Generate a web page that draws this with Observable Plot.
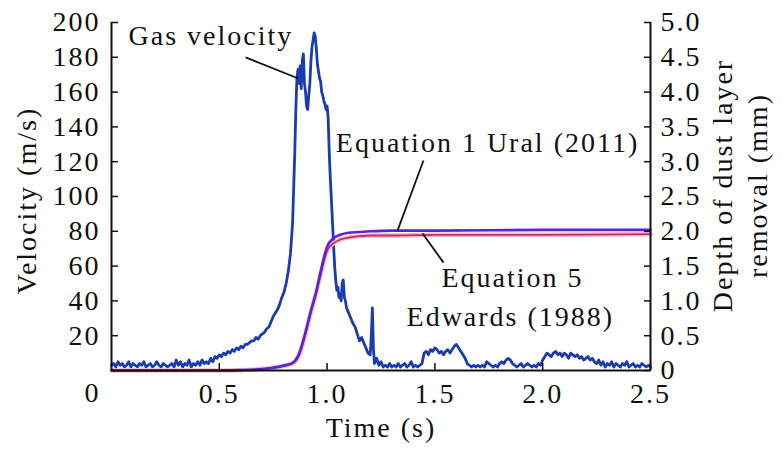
<!DOCTYPE html>
<html>
<head>
<meta charset="utf-8">
<script src="https://cdn.jsdelivr.net/npm/d3@7"></script>
<script src="https://cdn.jsdelivr.net/npm/@observablehq/plot@0.6"></script>
<style>
  html, body { margin: 0; padding: 0; background: #fff; }
  #chart svg, #chart svg text { font-family: "Liberation Serif", "Tinos", "DejaVu Serif", "Times New Roman", Times, serif !important; }
  #chart svg text { letter-spacing: 2px; }
</style>
</head>
<body>
<div id="chart"></div>
<script>
// ---- Gas velocity (m/s) vs time (s) ----
const gasTime = [
  0.00,0.01,0.02,0.03,0.04,0.05,0.06,0.07,0.08,0.09,0.10,0.11,0.12,0.13,0.14,0.15,0.16,0.17,0.18,0.19,
  0.20,0.21,0.22,0.23,0.24,0.25,0.26,0.27,0.28,0.29,0.30,0.31,0.32,0.33,0.34,0.35,0.36,0.37,0.38,0.39,
  0.40,0.41,0.42,0.43,0.44,0.45,0.46,0.47,0.48,0.49,0.50,0.51,0.52,0.53,0.54,0.55,0.56,0.57,0.58,0.59,
  0.60,0.61,0.62,0.63,0.64,0.65,0.66,0.67,0.68,0.69,0.70,0.71,0.72,0.73,0.74,0.75,0.76,0.77,0.78,0.79,
  0.80,0.81,0.82,0.83,0.84,0.85,0.855,0.86,0.865,0.87,0.875,0.88,0.885,0.89,0.895,0.90,0.905,0.91,0.915,
  0.92,0.925,0.93,0.935,0.94,0.945,0.95,0.955,0.96,0.965,0.97,0.975,0.98,0.985,0.99,0.995,1.00,1.005,
  1.01,1.015,1.02,1.025,1.03,1.035,1.04,1.045,1.05,1.055,1.06,1.065,1.07,1.075,1.08,1.085,1.09,
  1.10,1.11,1.12,1.13,1.14,1.15,1.16,1.17,1.18,1.19,1.20,1.205,1.21,1.215,1.22,1.23,1.24,1.25,1.26,
  1.27,1.28,1.29,1.30,1.31,1.32,1.33,1.34,1.35,1.36,1.37,1.38,1.39,1.40,1.41,1.42,1.43,1.44,
  1.45,1.46,1.47,1.48,1.49,1.50,1.51,1.52,1.53,1.54,1.55,1.56,1.57,1.58,1.59,1.60,1.61,1.62,1.63,
  1.64,1.65,1.66,1.67,1.68,1.69,1.70,1.71,1.72,1.73,1.74,1.75,1.76,1.77,1.78,1.79,1.80,1.81,1.82,
  1.83,1.84,1.85,1.86,1.87,1.88,1.89,1.90,1.91,1.92,1.93,1.94,1.95,1.96,1.97,1.98,1.99,2.00,2.01,
  2.02,2.03,2.04,2.05,2.06,2.07,2.08,2.09,2.10,2.11,2.12,2.13,2.14,2.15,2.16,2.17,2.18,2.19,2.20,
  2.21,2.22,2.23,2.24,2.25,2.26,2.27,2.28,2.29,2.30,2.31,2.32,2.33,2.34,2.35,2.36,2.37,2.38,2.39,
  2.40,2.41,2.42,2.43,2.44,2.45,2.46,2.47,2.48,2.49,2.50
];
const gasVelocity = [
  3,4,2,5,3,4,2,3,5,2,4,3,2,4,3,5,2,3,4,2,
  3,5,3,2,4,3,2,3,4,2,6,3,5,2,4,3,6,2,4,3,
  5,3,6,4,5,4,7,5,8,7,9,8,10,9,11,10,12,11,13,12,
  14,13,15,15,16,17,17,19,18,20,21,22,24,25,28,31,33,35,38,42,
  45,50,57,67,85,125,150,168,173,165,175,162,178,182,165,160,152,150,158,
  165,178,186,190,194,192,185,176,172,168,166,160,158,155,153,150,152,145,
  125,110,98,85,72,60,52,46,48,42,44,40,50,52,42,40,36,
  33,30,27,25,21,17,19,16,13,10,9,20,36,12,4,7,3,5,2,
  3,2,4,2,3,2,4,2,3,4,2,3,5,2,3,2,3,4,
  10,11,9,12,11,13,12,10,11,9,11,12,10,12,14,15,13,11,9,
  7,4,3,2,3,2,3,2,3,2,5,4,3,2,3,2,4,5,4,
  6,7,6,4,3,2,3,4,2,3,4,3,2,3,2,4,3,6,8,
  10,9,8,10,11,9,10,8,10,9,7,10,9,8,9,7,8,6,7,
  8,6,7,5,4,6,3,5,2,4,3,5,2,4,3,2,4,3,5,
  2,3,4,2,3,2,4,3,2,3,2
];

// ---- Depth of dust layer removal (mm) vs time (s) ----
const depthTime    = [0, 0.5, 0.6, 0.7, 0.75, 0.8, 0.84, 0.87, 0.9, 0.92, 0.95, 0.97, 1.0, 1.03, 1.06, 1.1, 1.15, 1.2, 1.3, 1.5, 2.0, 2.5];
const uralDepth    = [0, 0, 0.005, 0.02, 0.04, 0.07, 0.11, 0.24, 0.55, 0.8, 1.14, 1.42, 1.78, 1.9, 1.95, 1.98, 1.99, 2.0, 2.01, 2.01, 2.02, 2.02];
const edwardsDepth = [0, 0, 0.005, 0.02, 0.04, 0.07, 0.1, 0.22, 0.53, 0.78, 1.12, 1.38, 1.72, 1.83, 1.88, 1.91, 1.93, 1.94, 1.94, 1.95, 1.95, 1.96];

// ---- Axis ticks ----
const xTicks = [0.5, 1.0, 1.5, 2.0, 2.5];
const velocityTicks = [20, 40, 60, 80, 100, 120, 140, 160, 180, 200];
const depthTicks = [0, 0.5, 1.0, 1.5, 2.0, 2.5, 3.0, 3.5, 4.0, 4.5, 5.0];

// ---- Annotations ----
const labelTexts = ["Gas velocity", "Equation 1 Ural (2011)", "Equation 5", "Edwards (1988)"];

// depth → velocity-axis units (5 mm ↔ 200 m/s)
const K = 200 / 5;

const gas = gasTime.map((t, i) => ({t, v: gasVelocity[i]}));
const ural = depthTime.map((t, i) => ({t, v: uralDepth[i] * K}));
const edwards = depthTime.map((t, i) => ({t, v: edwardsDepth[i] * K}));

const startNotes = [{t: 0.079, v: 192, text: labelTexts[0]}];
const middleNotes = [
  {t: 1.744, v: 131, text: labelTexts[1]},
  {t: 1.86, v: 53, text: labelTexts[2]},
  {t: 1.85, v: 30.5, text: labelTexts[3]}
];
const leaders = [
  {t1: 0.622, v1: 180, t2: 0.867, v2: 167.8},
  {t1: 1.447, v1: 120.7, t2: 1.327, v2: 80.5},
  {t1: 1.443, v1: 78.7, t2: 1.54, v2: 62}
];

const font = '"Liberation Serif", "Tinos", "DejaVu Serif", serif';

const chart = Plot.plot({
  width: 783,
  height: 453,
  marginLeft: 111,
  marginRight: 133,
  marginTop: 22,
  marginBottom: 83,
  style: {fontFamily: font, fontSize: "28px", color: "#111", background: "#fff"},
  x: {domain: [0, 2.5], axis: null},
  y: {domain: [0, 200], axis: null},
  marks: [
    // data
    Plot.line(gas, {x: "t", y: "v", stroke: "#1a3cae", strokeWidth: 2.8, curve: "linear"}),
    Plot.line(edwards, {x: "t", y: "v", stroke: "#f0b8cc", strokeWidth: 4.5, curve: "monotone-x"}),
    Plot.line(edwards, {x: "t", y: "v", stroke: "#c2306a", strokeWidth: 1.8, curve: "monotone-x"}),
    Plot.line(ural, {x: "t", y: "v", stroke: "#5b22d6", strokeWidth: 2.6, curve: "monotone-x"}),
    // axes lines
    Plot.ruleX([0], {stroke: "#111", strokeWidth: 2}),
    Plot.ruleX([2.5], {stroke: "#111", strokeWidth: 2}),
    Plot.ruleY([0], {stroke: "#111", strokeWidth: 2}),
    // left axis
    Plot.axisY(velocityTicks, {anchor: "left", tickSize: -7, tickPadding: 18, strokeWidth: 1.5, label: null, tickFormat: d => String(d), fill: "#111"}),
    // right axis
    Plot.axisY(depthTicks.map(d => d * K), {anchor: "right", tickSize: -7, tickPadding: 17, strokeWidth: 1.5, label: null,
      tickFormat: d => d === 0 ? "0" : (d / K).toFixed(1), fill: "#111"}),
    // bottom axis
    Plot.axisX(xTicks, {anchor: "bottom", tickSize: -7, tickPadding: 20, strokeWidth: 1.5, label: null, tickFormat: d => d.toFixed(1), fill: "#111"}),
    Plot.text(["0"], {x: () => 0, y: () => 0, dx: -19, dy: 23, fill: "#111"}),
    // axis titles
    Plot.text(["Velocity (m/s)"], {frameAnchor: "left", dx: -84, dy: 4, rotate: -90, textAnchor: "middle", lineAnchor: "middle", fill: "#111"}),
    Plot.text(["Time (s)"], {frameAnchor: "bottom", dy: 58, textAnchor: "middle", lineAnchor: "middle", fill: "#111"}),
    Plot.text(["Depth of dust layer\nremoval (mm)"], {frameAnchor: "right", dx: 88, dy: -11, rotate: -90, textAnchor: "middle", lineAnchor: "middle", lineHeight: 1.25, fill: "#111"}),
    // annotations
    Plot.link(leaders, {x1: "t1", y1: "v1", x2: "t2", y2: "v2", stroke: "#111", strokeWidth: 1.8}),
    Plot.text(startNotes, {x: "t", y: "v", text: "text", textAnchor: "start", fill: "#111"}),
    Plot.text(middleNotes, {x: "t", y: "v", text: "text", textAnchor: "middle", fill: "#111"})
  ]
});
document.getElementById("chart").appendChild(chart);
</script>
</body>
</html>
